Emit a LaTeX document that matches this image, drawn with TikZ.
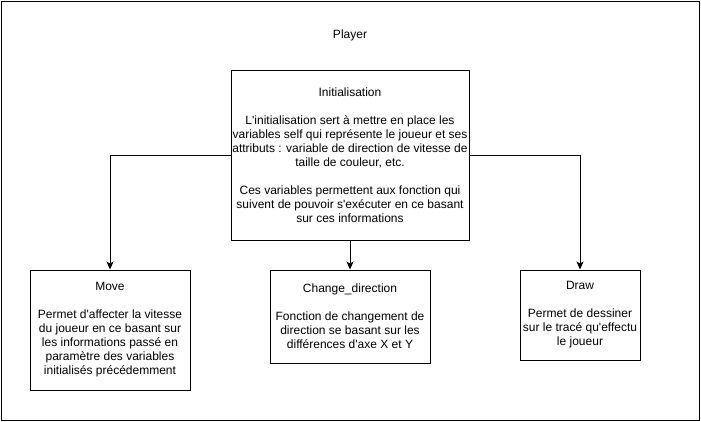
\documentclass[tikz,border=0pt]{standalone}
\usepackage{fontspec}
\newfontfamily\dio{Liberation Sans}
\usetikzlibrary{arrows.meta}
\begin{document}
\begin{tikzpicture}[x=1pt,y=-1pt,
  box/.style={draw, line width=1pt, align=center, inner sep=0pt, font=\dio\fontsize{12}{14}\selectfont},
  conn/.style={line width=1pt, -{Stealth[length=8pt,width=7pt,inset=2pt]}},
  lbl/.style={inner sep=0pt, font=\dio\fontsize{12}{14}\selectfont}]
\useasboundingbox (0,0) rectangle (701,421);
\draw[line width=1pt] (1,1) rectangle (699,420);
\node[lbl] (player) at (350,35) {Player};
\node[box, minimum width=238pt, minimum height=170pt] (init) at (350,155) {Initialisation\\[14pt]L'initialisation sert à mettre en place les\\variables self qui représente le joueur et ses\\attributs : variable de direction de vitesse de\\taille de couleur, etc.\\[14pt]Ces variables permettent aux fonction qui\\suivent de pouvoir s'exécuter en ce basant\\sur ces informations};
\node[box, minimum width=160pt, minimum height=120pt] (move) at (110,330) {Move\\[14pt]Permet d'affecter la vitesse\\du joueur en ce basant sur\\les informations passé en\\paramètre des variables\\initialisés précédemment};
\node[box, minimum width=160pt, minimum height=93pt] (change) at (350,316.5) {Change\_direction\\[14pt]Fonction de changement de\\direction se basant sur les\\différences d'axe X et Y};
\node[box, minimum width=120pt, minimum height=90pt] (drawbox) at (580,315) {Draw\\[14pt]Permet de dessiner\\sur le tracé qu'effectu\\le joueur};
\draw[conn] (init.west) -| (move.north);
\draw[conn] (init.east) -| (drawbox.north);
\draw[conn] (init.south) -- (change.north);
\end{tikzpicture}
\end{document}
